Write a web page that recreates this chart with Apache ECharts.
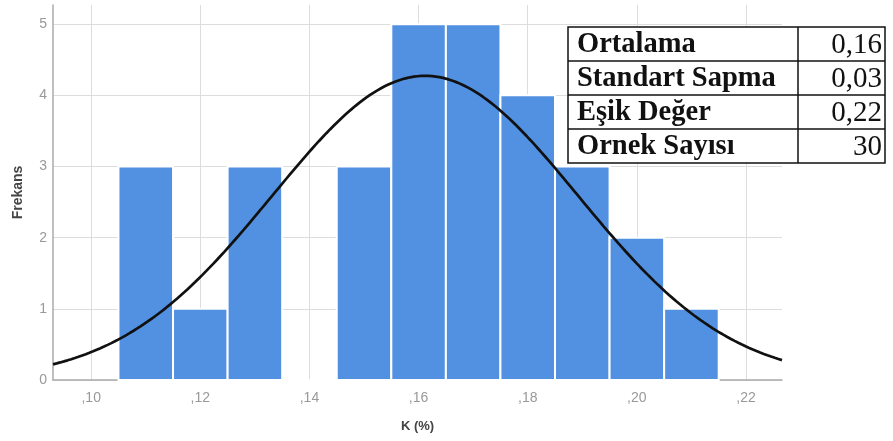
<!DOCTYPE html>
<html><head><meta charset="utf-8">
<script src="https://cdn.jsdelivr.net/npm/echarts@6/dist/echarts.min.js"></script>
<style>html,body{margin:0;padding:0;background:#fff}#c{width:893px;height:441px}</style>
</head><body><div id="c"></div>
<script>
// Histogram bins (K %) and counts
const binStarts = [0.105,0.115,0.125,0.135,0.145,0.155,0.165,0.175,0.185,0.195,0.205];
const binEnds   = [0.115,0.125,0.135,0.145,0.155,0.165,0.175,0.185,0.195,0.205,0.215];
const counts    = [3,1,3,0,3,5,5,4,3,2,1];
// x tick values and labels
const xTicks = [0.10,0.12,0.14,0.16,0.18,0.20,0.22];
const xTickLabels = [',10',',12',',14',',16',',18',',20',',22'];
// fitted normal curve parameters
const fitMean = 0.1612;
const fitSd = 0.0280;
const sampleN = 30;
const binWidth = 0.01;
// summary table
const tableLabels = ['Ortalama','Standart Sapma','Eşik Değer','Ornek Sayısı'];
const tableValues = ['0,16','0,03','0,22','30'];

const xMin = 0.093, xMax = 0.2266;
const curve = [];
for (let i = 0; i <= 200; i++) {
  const x = xMin + (xMax - xMin) * i / 200;
  const z = (x - fitMean) / fitSd;
  curve.push([x, sampleN * binWidth / (fitSd * Math.sqrt(2 * Math.PI)) * Math.exp(-0.5 * z * z)]);
}
const barData = binStarts.map((s, i) => [s, binEnds[i], counts[i]]);

// table graphic
const tX = 568, tY = 27, tW = 317, rowH = 34, colX = 798;
const g = [];
g.push({type:'rect', shape:{x:tX,y:tY,width:tW,height:rowH*4}, style:{fill:'#fff',stroke:'#111',lineWidth:1.5}, z:100});
for (let r = 1; r < 4; r++) g.push({type:'line', shape:{x1:tX,y1:tY+r*rowH,x2:tX+tW,y2:tY+r*rowH}, style:{stroke:'#111',lineWidth:1.5}, z:101});
g.push({type:'line', shape:{x1:colX,y1:tY,x2:colX,y2:tY+rowH*4}, style:{stroke:'#111',lineWidth:1.5}, z:101});
tableLabels.forEach((t, r) => {
  g.push({type:'text', x:tX+9, y:tY+r*rowH+rowH/2+1, z:102,
    style:{text:t, fill:'#111', font:'bold 28.5px "Liberation Serif"', textVerticalAlign:'middle', textAlign:'left'}});
  g.push({type:'text', x:tX+tW-3, y:tY+r*rowH+rowH/2+1, z:102,
    style:{text:tableValues[r], fill:'#111', font:'29px "Liberation Serif"', textVerticalAlign:'middle', textAlign:'right'}});
});

const chart = echarts.init(document.getElementById('c'));
chart.setOption({
  animation:false,
  backgroundColor:'#fff',
  grid:{left:53,right:111,top:5,bottom:61},
  xAxis:{type:'value', min:xMin, max:xMax,
    name:'K (%)', nameLocation:'middle', nameGap:40,
    nameTextStyle:{fontFamily:'Arial, Liberation Sans', fontSize:13, fontWeight:'bold', color:'#444'},
    axisLine:{show:true, lineStyle:{color:'#aaa', width:1.5}},
    axisTick:{show:false, customValues:xTicks},
    axisLabel:{customValues:xTicks, margin:11, fontSize:14, color:'#999', fontFamily:'Arial, Liberation Sans',
      formatter:(v)=>{const i=xTicks.findIndex(t=>Math.abs(t-v)<1e-6);return i>=0?xTickLabels[i]:'';}},
    splitLine:{show:true, lineStyle:{color:'#ddd', width:1}}
  },
  yAxis:{type:'value', min:0, max:5.27, interval:1,
    name:'Frekans', nameLocation:'middle', nameRotate:90, nameGap:28,
    nameTextStyle:{fontFamily:'Arial, Liberation Sans', fontSize:14, fontWeight:'bold', color:'#444'},
    axisLine:{show:true, lineStyle:{color:'#aaa', width:1.5}},
    axisTick:{show:false},
    axisLabel:{margin:6, fontSize:14, color:'#999', fontFamily:'Arial, Liberation Sans', showMaxLabel:false,
      formatter:(v)=>Number.isInteger(v)?String(v):''},
    splitLine:{show:true, showMaxLine:false, lineStyle:{color:'#ddd', width:1}}
  },
  graphic:g,
  series:[
    {type:'custom', data:barData, z:2,
      renderItem:(params, api)=>{
        const p0 = api.coord([api.value(0), 0]);
        const p1 = api.coord([api.value(1), api.value(2)]);
        return {type:'rect', shape:{x:p0[0], y:p1[1], width:p1[0]-p0[0], height:p0[1]-p1[1]},
          style:{fill:'#5291e2', stroke:'#fff', lineWidth:2}};
      },
      encode:{x:[0,1], y:2}
    },
    {type:'line', data:curve, showSymbol:false, smooth:false, z:5,
      lineStyle:{color:'#111', width:2.7}}
  ]
});
</script></body></html>
